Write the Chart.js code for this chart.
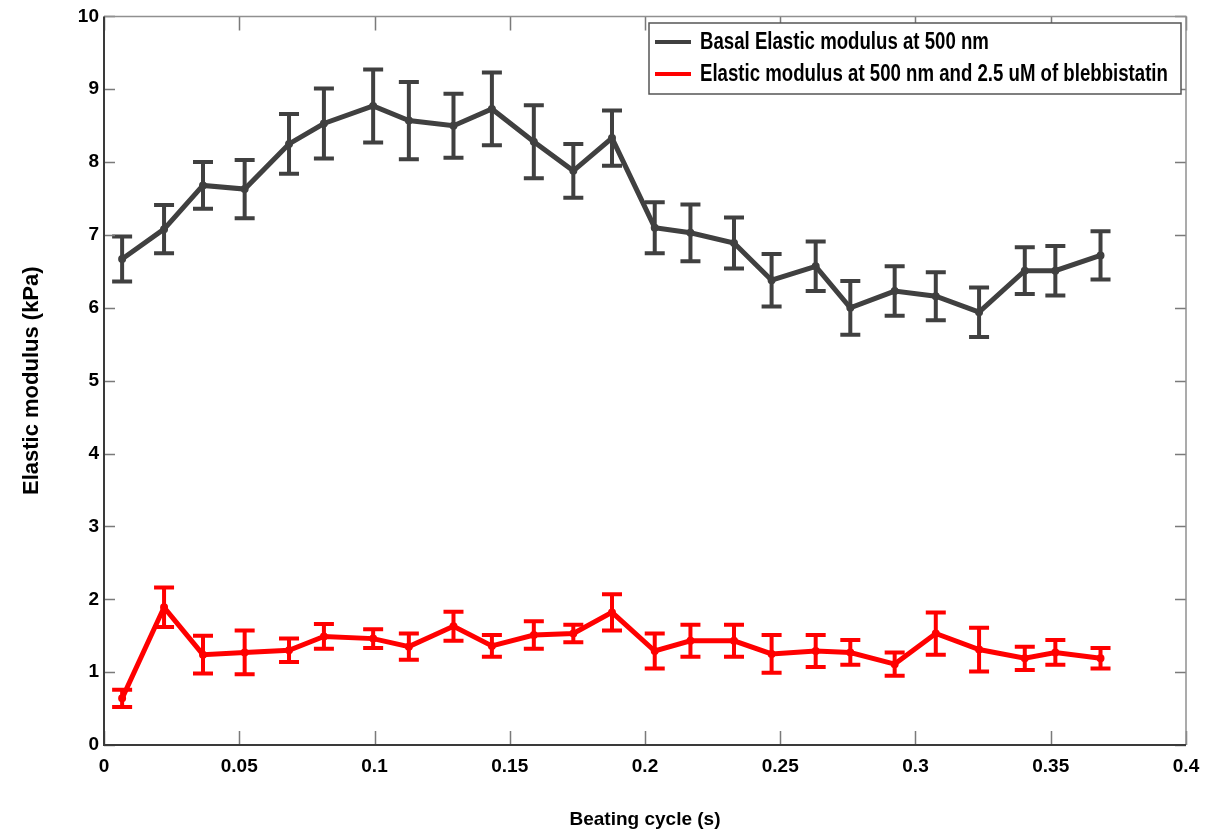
<!DOCTYPE html>
<html lang="en">
<head>
    <meta charset="UTF-8">
    <title>Elastic modulus over the beating cycle</title>
    <style>
        body {
            margin: 0;
            background-color: white;
        }
        #modulusChart {
            display: block;
        }
    </style>
    <script src="https://cdn.jsdelivr.net/npm/chart.js"></script>
</head>
<body>
    <canvas id="modulusChart" width="1223" height="835"></canvas>

    <script>
        // time points along the beating cycle (s), shared by both series
        const beatTime = [0.0067, 0.0222, 0.0366, 0.0520, 0.0684, 0.0813, 0.0995, 0.1127, 0.1292,
            0.1434, 0.1589, 0.1735, 0.1878, 0.2036, 0.2168, 0.2329, 0.2468, 0.2631, 0.2759, 0.2923,
            0.3075, 0.3235, 0.3404, 0.3517, 0.3684];

        const basalModulus = [6.67, 7.08, 7.68, 7.63, 8.25, 8.53, 8.77, 8.57, 8.50, 8.73, 8.28, 7.88, 8.33,
            7.10, 7.03, 6.89, 6.38, 6.57, 6.00, 6.23, 6.16, 5.94, 6.51, 6.51, 6.72];
        const basalError = [0.31, 0.33, 0.32, 0.40, 0.41, 0.48, 0.50, 0.53, 0.44, 0.50, 0.50, 0.37, 0.38,
            0.35, 0.39, 0.35, 0.36, 0.34, 0.37, 0.34, 0.33, 0.34, 0.32, 0.34, 0.33];

        const blebModulus = [0.64, 1.89, 1.24, 1.27, 1.30, 1.49, 1.46, 1.35, 1.63, 1.36, 1.51, 1.53, 1.82,
            1.29, 1.43, 1.43, 1.25, 1.29, 1.27, 1.11, 1.53, 1.31, 1.19, 1.27, 1.19];
        const blebError = [0.12, 0.27, 0.26, 0.30, 0.16, 0.17, 0.13, 0.18, 0.20, 0.15, 0.19, 0.12, 0.25,
            0.24, 0.22, 0.22, 0.26, 0.22, 0.17, 0.16, 0.29, 0.30, 0.16, 0.17, 0.14];

        const xTicks = [0, 0.05, 0.1, 0.15, 0.2, 0.25, 0.3, 0.35, 0.4];
        const yTicks = [0, 1, 2, 3, 4, 5, 6, 7, 8, 9, 10];

        const FONT = "'Liberation Sans', Arial, sans-serif";

        const toPoints = (xs, ys) => xs.map((x, i) => ({ x: x, y: ys[i] }));

        // vertical error bars with caps, drawn under the lines
        const errorBars = {
            id: 'errorBars',
            beforeDatasetsDraw(chart) {
                const ctx = chart.ctx;
                const xs = chart.scales.x, ys = chart.scales.y;
                chart.data.datasets.forEach(ds => {
                    ctx.save();
                    ctx.strokeStyle = ds.borderColor;
                    ctx.lineWidth = 4;
                    ctx.lineCap = 'butt';
                    ds.data.forEach((p, i) => {
                        const e = ds.errors[i];
                        const px = xs.getPixelForValue(p.x);
                        const top = ys.getPixelForValue(p.y + e);
                        const bot = ys.getPixelForValue(p.y - e);
                        ctx.beginPath();
                        ctx.moveTo(px, top); ctx.lineTo(px, bot);
                        ctx.moveTo(px - 10, top); ctx.lineTo(px + 10, top);
                        ctx.moveTo(px - 10, bot); ctx.lineTo(px + 10, bot);
                        ctx.stroke();
                    });
                    ctx.restore();
                });
            }
        };

        // MATLAB style box with inward ticks on all four sides
        const boxAxes = {
            id: 'boxAxes',
            afterDraw(chart) {
                const ctx = chart.ctx;
                const a = chart.chartArea;
                const xs = chart.scales.x, ys = chart.scales.y;
                ctx.save();
                ctx.strokeStyle = '#7a7a7a';
                ctx.lineWidth = 1.5;
                ctx.beginPath();
                xTicks.forEach(v => {
                    const px = Math.round(xs.getPixelForValue(v)) + 0.5;
                    ctx.moveTo(px, a.bottom); ctx.lineTo(px, a.bottom - 14);
                    ctx.moveTo(px, a.top); ctx.lineTo(px, a.top + 14);
                });
                yTicks.forEach(v => {
                    const py = Math.round(ys.getPixelForValue(v)) + 0.5;
                    ctx.moveTo(a.left, py); ctx.lineTo(a.left + 11, py);
                    ctx.moveTo(a.right, py); ctx.lineTo(a.right - 11, py);
                });
                ctx.stroke();
                ctx.strokeStyle = '#909090';
                ctx.lineWidth = 1.5;
                ctx.beginPath();
                ctx.moveTo(a.left, a.top); ctx.lineTo(a.right, a.top); ctx.lineTo(a.right, a.bottom);
                ctx.stroke();
                ctx.strokeStyle = '#3a3a3a';
                ctx.lineWidth = 2;
                ctx.beginPath();
                ctx.moveTo(a.left, a.top); ctx.lineTo(a.left, a.bottom); ctx.lineTo(a.right, a.bottom);
                ctx.stroke();
                ctx.restore();
            }
        };

        // legend box in the upper right corner of the plot, text squeezed like a narrow face
        const boxLegend = {
            id: 'boxLegend',
            afterDraw(chart) {
                const ctx = chart.ctx;
                const left = 649, top = 23, width = 532, height = 71;
                const squeeze = 0.81;
                ctx.save();
                ctx.fillStyle = 'white';
                ctx.fillRect(left, top, width, height);
                ctx.strokeStyle = '#555';
                ctx.lineWidth = 1.5;
                ctx.strokeRect(left, top, width, height);
                ctx.font = 'bold 23px ' + FONT;
                ctx.textBaseline = 'middle';
                chart.data.datasets.forEach((ds, i) => {
                    const y = top + 19 + i * 32;
                    ctx.strokeStyle = ds.borderColor;
                    ctx.lineWidth = 4;
                    ctx.beginPath();
                    ctx.moveTo(655, y); ctx.lineTo(691, y);
                    ctx.stroke();
                    ctx.save();
                    ctx.translate(700, y + 1);
                    ctx.scale(squeeze, 1);
                    ctx.fillStyle = 'black';
                    ctx.fillText(ds.label, 0, 0);
                    ctx.restore();
                });
                ctx.restore();
            }
        };

        function createChart() {
            const ctx = document.getElementById('modulusChart').getContext('2d');
            new Chart(ctx, {
                type: 'line',
                data: {
                    datasets: [{
                        label: 'Basal Elastic modulus at 500 nm',
                        data: toPoints(beatTime, basalModulus),
                        errors: basalError,
                        borderColor: '#404040',
                        backgroundColor: '#404040',
                        borderWidth: 5,
                        pointRadius: 1.5,
                        fill: false,
                        tension: 0
                    }, {
                        label: 'Elastic modulus at 500 nm and 2.5 uM of blebbistatin',
                        data: toPoints(beatTime, blebModulus),
                        errors: blebError,
                        borderColor: '#ff0000',
                        backgroundColor: '#ff0000',
                        borderWidth: 5,
                        pointRadius: 1.5,
                        fill: false,
                        tension: 0
                    }]
                },
                options: {
                    responsive: false,
                    animation: false,
                    layout: { padding: { left: 0, right: 37, top: 9, bottom: 0 } },
                    scales: {
                        x: {
                            type: 'linear',
                            min: 0,
                            max: 0.4,
                            afterFit: s => { s.height = 90; },
                            afterBuildTicks: s => { s.ticks = xTicks.map(v => ({ value: v })); },
                            grid: { display: false, drawTicks: false },
                            border: { display: false },
                            ticks: {
                                padding: 10,
                                color: 'black',
                                font: { family: FONT, size: 19, weight: 'bold' },
                                callback: v => String(Number(v.toFixed(2)))
                            },
                            title: {
                                display: true,
                                text: 'Beating cycle (s)',
                                color: 'black',
                                font: { family: FONT, size: 19, weight: 'bold' },
                                padding: { top: 0, bottom: 4 }
                            }
                        },
                        y: {
                            min: 0,
                            max: 10,
                            afterFit: s => { s.width = 104; },
                            afterBuildTicks: s => { s.ticks = yTicks.map(v => ({ value: v })); },
                            grid: { display: false, drawTicks: false },
                            border: { display: false },
                            ticks: {
                                padding: 5,
                                color: 'black',
                                font: { family: FONT, size: 19, weight: 'bold' }
                            },
                            title: {
                                display: true,
                                text: 'Elastic modulus (kPa)',
                                color: 'black',
                                font: { family: FONT, size: 22, weight: 'bold' },
                                padding: { top: 19, bottom: 0 }
                            }
                        }
                    },
                    plugins: {
                        legend: { display: false },
                        tooltip: { enabled: false }
                    }
                },
                plugins: [errorBars, boxAxes, boxLegend]
            });
        }

        createChart();
    </script>
</body>
</html>
